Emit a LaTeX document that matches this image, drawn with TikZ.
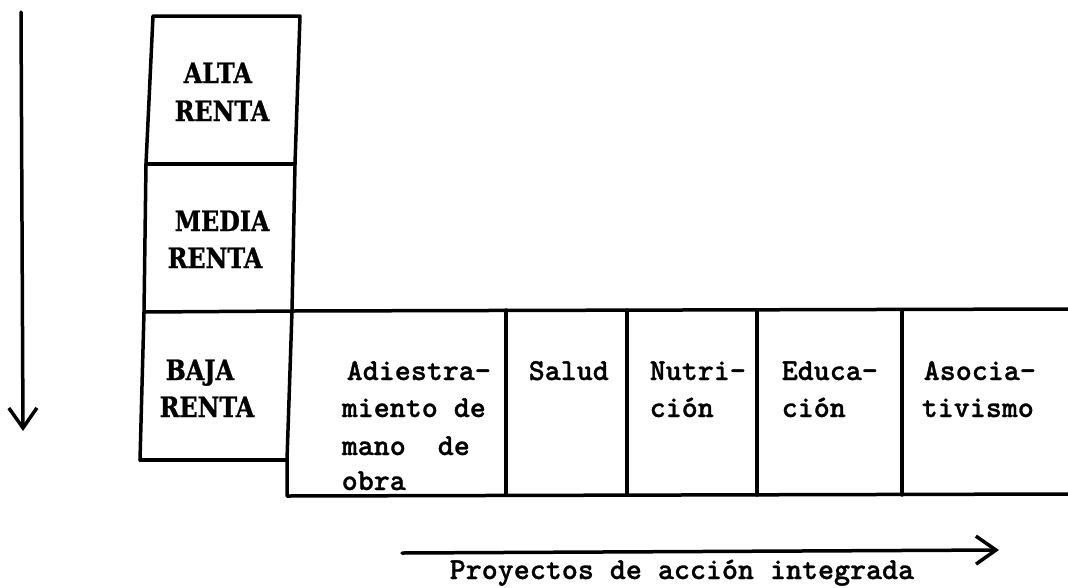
\documentclass[tikz,border=0pt]{standalone}
\usepackage{fontspec}
\newfontfamily\headfont{DejaVu Serif}[UprightFont=* Bold,FakeStretch=0.85,FakeBold=1]
\newfontfamily\typefont{lmmonolt10-bold}[Extension=.otf,FakeBold=1]
\usetikzlibrary{arrows.meta}
\begin{document}
\begin{tikzpicture}[x=1pt,y=-1pt,line width=3.5pt,line cap=round,line join=round,
  head/.style={anchor=base west,inner sep=0pt,font=\headfont\fontsize{28}{38}\selectfont},
  cell/.style={anchor=base west,inner sep=0pt,font=\typefont\fontsize{30.5}{37}\selectfont},
  axis/.style={-{Straight Barb[length=20pt,width=28pt]}}]
\useasboundingbox (0,0) rectangle (1068,587);
% frame coordinates
\coordinate (tl) at (153,16);
\coordinate (tr) at (300,16);
\coordinate (l1) at (146,164);
\coordinate (r1) at (295,164);
\coordinate (l2) at (144,312);
\coordinate (r2) at (292,311);
\coordinate (l3) at (140,460);
\coordinate (r3) at (287,460);
\coordinate (s3) at (287,496);
\coordinate (ee) at (1068,309);
\coordinate (eb) at (1068,494);
% left column
\draw (l3) -- (l2) -- (l1) -- (tl) -- (tr) -- (r1) -- (r2) -- (r3) -- (s3) -- (eb);
\draw (l1) -- (r1);
\draw (l2) -- (r2) -- (ee);
\draw (l3) -- (r3);
% dividers
\foreach \x/\n in {506/a,627/b,757/c,902/d}{
  \coordinate (t\n) at (\x,310);
  \coordinate (b\n) at (\x,495);
  \draw (t\n) -- (b\n);
}
% headings
\node[head] (alta1) at (182,83) {ALTA};
\node[head] (alta2) at (173,121) {RENTA};
\node[head] (media1) at (173,231) {MEDIA};
\node[head] (media2) at (166,268) {RENTA};
\node[head] (baja1) at (164,380) {BAJA};
\node[head] (baja2) at (158,417) {RENTA};
% cells
\node[cell] (adi1) at (345,380) {Adiestra-};
\node[cell] (adi2) at (340,417) {miento de};
\node[cell] (adi3) at (340,455) {mano~~de};
\node[cell] (adi4) at (340,490) {obra};
\node[cell] (sal) at (527,380) {Salud};
\node[cell] (nut1) at (648,380) {Nutri-};
\node[cell] (nut2) at (648,417) {ción};
\node[cell] (edu1) at (780,380) {Educa-};
\node[cell] (edu2) at (780,417) {ción};
\node[cell] (aso1) at (922,380) {Asocia-};
\node[cell] (aso2) at (920,417) {tivismo};
% axes
\coordinate (ltop) at (21,12);
\coordinate (lbot) at (23,431);
\draw[axis] (ltop) -- (lbot);
\coordinate (rstart) at (402,553);
\coordinate (rend) at (999,550);
\draw[axis] (rstart) -- (rend);
\node[cell] (proy) at (448,579) {Proyectos de acción integrada};
\end{tikzpicture}
\end{document}
